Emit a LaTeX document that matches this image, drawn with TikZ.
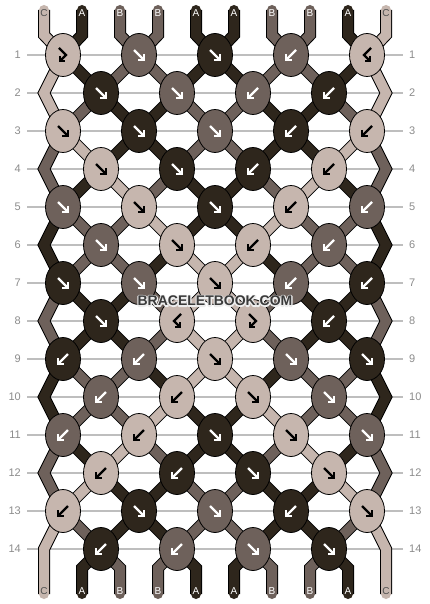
\documentclass[tikz,border=0pt]{standalone}
\usepackage{fontspec}
\setmainfont{Liberation Sans}
\usetikzlibrary{shapes.geometric,backgrounds}
\definecolor{stA}{RGB}{46,38,28}
\definecolor{stB}{RGB}{110,97,91}
\definecolor{stC}{RGB}{198,182,174}
\colorlet{arA}{white}
\colorlet{arB}{white}
\colorlet{arC}{black}
\colorlet{lbA}{white}
\colorlet{lbB}{white}
\definecolor{lbC}{RGB}{80,80,80}
\definecolor{rowgray}{RGB}{140,140,140}
\definecolor{gridgray}{RGB}{190,190,190}
\definecolor{wmgray}{RGB}{58,58,58}
\newcommand\haloword[1]{\rlap{\special{pdf:literal direct 1 Tr 2.4 w 1 j 0.93 0.93 0.93 RG}#1\special{pdf:literal direct 0 Tr}}#1}
\begin{document}
\begin{tikzpicture}[x=1pt,y=-1pt,
  knot/.style={ellipse,minimum width=35pt,minimum height=43pt,inner sep=0pt,draw=black,line width=0.8pt},
  strand/.style={line width=10pt,draw=st#1,preaction={draw=black,line width=12pt}},
  arr/.style={line width=2.3pt},
  pics/arrf/.style={code={\draw[arr] (-5,-5)--(5,5); \draw[arr] (5,-1)--(5,5)--(-1,5);}},
  pics/arrb/.style={code={\draw[arr] (5,-5)--(-5,5); \draw[arr] (-5,-1)--(-5,5)--(1,5);}},
  pics/arrF/.style={code={\draw[arr] (-4,-7)--(3,0)--(-3,6); \draw[arr] (-3,1)--(-3,6)--(2,6);}},
  pics/arrB/.style={code={\draw[arr] (4,-7)--(-3,0)--(3,6); \draw[arr] (3,1)--(3,6)--(-2,6);}},
  rowlab/.style={text=rowgray,font=\fontsize{11}{13}\selectfont,inner sep=0pt},
  strlab/.style={font=\fontsize{10}{12}\selectfont,inner sep=0pt},
  gridline/.style={draw=gridgray,line width=1.2pt},
  wm/.style={font=\bfseries\fontsize{14}{16}\selectfont,inner sep=0pt}]
\useasboundingbox (0,0) rectangle (430,604);
% knots
\foreach \r/\L/\c/\t in {
 1/1/C/F,1/3/B/f,1/5/A/f,1/7/B/b,1/9/C/B,
 2/2/A/f,2/4/B/f,2/6/B/b,2/8/A/b,
 3/1/C/f,3/3/A/f,3/5/B/f,3/7/A/b,3/9/C/b,
 4/2/C/f,4/4/A/f,4/6/A/b,4/8/C/b,
 5/1/B/f,5/3/C/f,5/5/A/f,5/7/C/b,5/9/B/b,
 6/2/B/f,6/4/C/f,6/6/C/b,6/8/B/b,
 7/1/A/f,7/3/B/f,7/5/C/f,7/7/B/b,7/9/A/b,
 8/2/A/f,8/4/C/B,8/6/C/F,8/8/A/b,
 9/1/A/b,9/3/B/b,9/5/C/f,9/7/B/f,9/9/A/f,
 10/2/B/b,10/4/C/b,10/6/C/f,10/8/B/f,
 11/1/B/b,11/3/C/b,11/5/A/f,11/7/C/f,11/9/B/f,
 12/2/C/b,12/4/A/b,12/6/A/f,12/8/C/f,
 13/1/C/b,13/3/A/f,13/5/B/f,13/7/A/b,13/9/C/f,
 14/2/A/b,14/4/B/b,14/6/B/f,14/8/A/f} {
  \pgfmathtruncatemacro\xx{38*\L+25}
  \pgfmathtruncatemacro\yy{55+38*(\r-1)}
  \node[knot,fill=st\c] (k\r-\L) at (\xx,\yy) {};
  \pic[color=ar\c] at (k\r-\L) {arr\t};
}
% edge turning points
\foreach \r in {2,4,...,14} {
  \pgfmathtruncatemacro\yy{55+38*(\r-1)}
  \coordinate (k\r-0) at (44,\yy);
  \coordinate (k\r-10) at (386,\yy);
}
\begin{pgfonlayer}{background}
\fill[white] (0,0) rectangle (430,604);
\foreach \r in {1,...,14} {
  \pgfmathtruncatemacro\yy{55+38*(\r-1)}
  \draw[gridline] (27,\yy) -- (403,\yy);
}
% top strands
\foreach \c [count=\p] in {C,A,B,B,A,A,B,B,A,C} {
  \pgfmathtruncatemacro\xp{38*\p+6}
  \pgfmathtruncatemacro\L{\p-1+mod(\p,2)}
  \coordinate (top\p) at (\xp,10);
  \draw[strand=\c,line cap=round] (top\p) -- (\xp,35) -- (k1-\L.center);
}
% interior segments
\foreach \r/\cols in {
 1/{C,A,B,B,A,A,B,B,A,C},
 2/{C,B,A,A,B,B,A,A,B,C},
 3/{B,C,A,A,B,B,A,A,C,B},
 4/{B,A,C,B,A,A,B,C,A,B},
 5/{A,B,B,C,A,A,C,B,B,A},
 6/{A,B,B,A,C,C,A,B,B,A},
 7/{B,A,A,B,C,C,B,A,A,B},
 8/{B,A,A,B,C,C,B,A,A,B},
 9/{A,B,B,A,C,C,A,B,B,A},
 10/{A,B,B,C,A,A,C,B,B,A},
 11/{B,A,C,B,A,A,B,C,A,B},
 12/{B,C,A,A,B,B,A,A,C,B},
 13/{C,B,A,A,B,B,A,A,B,C}} {
  \pgfmathtruncatemacro\rr{\r+1}
  \foreach \c [count=\p] in \cols {
    \pgfmathtruncatemacro\La{\p-mod(\p+\r,2)}
    \pgfmathtruncatemacro\Lb{\p-mod(\p+\rr,2)}
    \ifnum\p>1 \ifnum\p<10 \draw[strand=\c] (k\r-\La.center) -- (k\rr-\Lb.center); \fi\fi
  }
}
% edge strands
\foreach \r/\lc/\rc in {2/C/C,4/B/B,6/A/A,8/B/B,10/A/A,12/B/B} {
  \pgfmathtruncatemacro\ra{\r-1}
  \pgfmathtruncatemacro\rb{\r+1}
  \draw[strand=\lc] (k\ra-1.center) -- (k\r-0) -- (k\rb-1.center);
  \draw[strand=\rc] (k\ra-9.center) -- (k\r-10) -- (k\rb-9.center);
}
% bottom strands
\foreach \c [count=\p] in {C,A,B,B,A,A,B,B,A,C} {
  \pgfmathtruncatemacro\xp{38*\p+6}
  \pgfmathtruncatemacro\L{\p-mod(\p,2)}
  \coordinate (bot\p) at (\xp,594);
  \ifnum\p=1 \draw[strand=\c,line cap=round] (k13-1.center) -- (k14-0) -- (bot\p);
  \else\ifnum\p=10 \draw[strand=\c,line cap=round] (k13-9.center) -- (k14-10) -- (bot\p);
  \else \draw[strand=\c,line cap=round] (k14-\L.center) -- (\xp,568) -- (bot\p);
  \fi\fi
}
\end{pgfonlayer}
% strand letters
\foreach \c [count=\p] in {C,A,B,B,A,A,B,B,A,C} {
  \pgfmathtruncatemacro\xp{38*\p+6}
  \node[strlab,text=lb\c] (tl\p) at (\xp,13) {\c};
  \node[strlab,text=lb\c] (bl\p) at (\xp,591) {\c};
}
% row labels
\foreach \r in {1,...,14} {
  \pgfmathtruncatemacro\yy{55+38*(\r-1)}
  \node[rowlab,anchor=east] (ll\r) at (21,\yy) {\r};
  \node[rowlab,anchor=west] (lr\r) at (409,\yy) {\r};
}
% watermark
\node[wm,text=wmgray] (wm) at (215,301) {\haloword{BRACELETBOOK.COM}};
\end{tikzpicture}
\end{document}
